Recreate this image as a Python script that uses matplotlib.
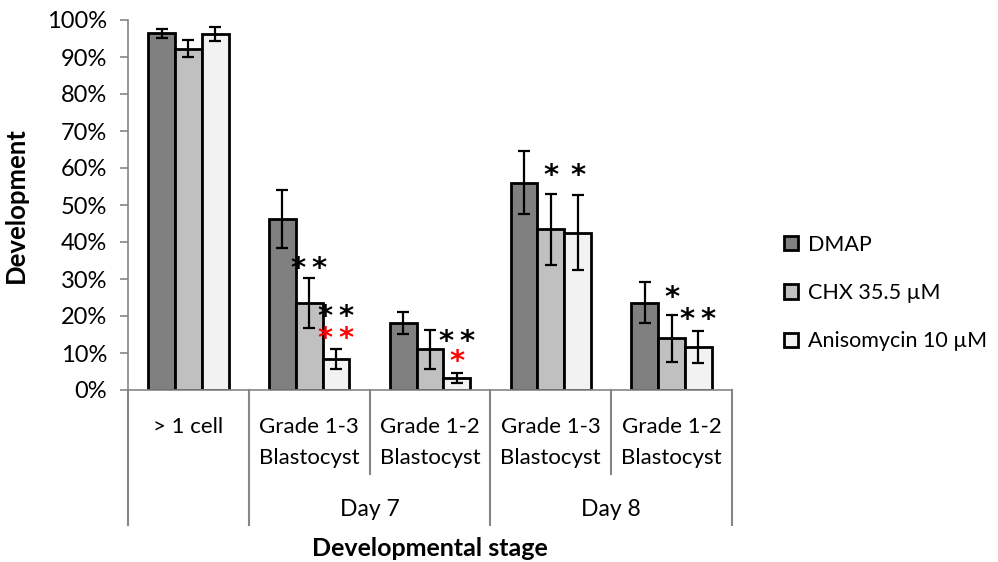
import matplotlib
matplotlib.use("Agg")
import matplotlib.pyplot as plt
from matplotlib.patches import Patch
from matplotlib.ticker import PercentFormatter, FixedLocator
import numpy as np

plt.rcParams['font.family'] = ['Lato', 'DejaVu Sans']

# ---- data ----
categories = ["> 1 cell", "Grade 1-3\nBlastocyst", "Grade 1-2\nBlastocyst",
              "Grade 1-3\nBlastocyst", "Grade 1-2\nBlastocyst"]
groups = ["Day 7", "Day 8"]
group_members = [[1, 2], [3, 4]]
series = ["DMAP", "CHX 35.5 µM", "Anisomycin 10 µM"]
dmap = [0.964, 0.462, 0.182, 0.560, 0.236]
chx = [0.922, 0.236, 0.110, 0.434, 0.140]
aniso = [0.962, 0.084, 0.032, 0.425, 0.117]
dmap_err = [0.013, 0.078, 0.030, 0.085, 0.056]
chx_err = [0.023, 0.068, 0.053, 0.096, 0.064]
aniso_err = [0.020, 0.027, 0.013, 0.102, 0.043]
# significance marks: category, offset in bar widths, height, text, colour
sig_cat = [1, 1, 1, 2, 2, 3, 3, 4, 4]
sig_pos = [0.0, 1.0, 1.0, 1.0, 1.0, 0.0, 1.0, 0.0, 1.0]
sig_y = [0.343, 0.212, 0.154, 0.144, 0.090, 0.593, 0.593, 0.264, 0.203]
sig_txt = ["**", "**", "**", "**", "*", "*", "*", "*", "**"]
sig_col = ["black", "black", "red", "black", "red", "black", "black", "black", "black"]

colors = ["#808080", "#c0c0c0", "#f2f2f2"]
values = [dmap, chx, aniso]
errs = [dmap_err, chx_err, aniso_err]

W, H = 998, 562
fig = plt.figure(figsize=(W / 100, H / 100), dpi=100)
ax = fig.add_axes([128 / W, 1 - 390 / H, (732 - 128) / W, 370 / H])

x = np.arange(len(categories))
bw = 1 / 4.5
axis_gray = "#868686"
for i, (vals, er, c) in enumerate(zip(values, errs, colors)):
    ax.bar(x + (i - 1) * bw, vals, bw, color=c, edgecolor="black", linewidth=2.0,
           zorder=2, label=series[i])
    ax.errorbar(x + (i - 1) * bw, vals, yerr=er, fmt="none", ecolor="black",
                elinewidth=1.6, capsize=4.5, capthick=1.6, zorder=3)

star_fs = 21
for c, p, yy, t, col in zip(sig_cat, sig_pos, sig_y, sig_txt, sig_col):
    ax.annotate(t.replace("**", "*\u2009*"), (c + p * bw, yy),
                xytext=(0, -0.19 * star_fs), textcoords="offset points",
                ha="center", va="center", fontsize=star_fs, color=col,
                family="DejaVu Sans", fontweight="bold", zorder=4)

ax.set_xlim(-0.5, len(categories) - 0.5)
ax.set_ylim(0, 1)
ax.yaxis.set_major_locator(FixedLocator(np.linspace(0, 1, 11)))
ax.yaxis.set_major_formatter(PercentFormatter(1.0, decimals=0))
ax.tick_params(axis="y", length=6, width=1.2, color=axis_gray, labelsize=17,
               pad=9, direction="out")
ax.set_xticks([])
for s in ["top", "right"]:
    ax.spines[s].set_visible(False)
ax.spines["left"].set_color(axis_gray)
ax.spines["bottom"].set_color(axis_gray)
ax.spines["left"].set_linewidth(1.2)
ax.spines["bottom"].set_linewidth(1.2)

trans = ax.get_xaxis_transform()
# separators between categories
bounds = np.arange(len(categories) + 1) - 0.5
inner = [np.mean(g) for g in group_members]
for b in bounds:
    low = -0.227 if b in inner else -0.365
    ax.plot([b, b], [0, low], transform=trans, color=axis_gray, lw=1.5,
            clip_on=False)
for i, lab in enumerate(categories):
    ax.text(x[i], -0.072, lab, transform=trans, ha="center", va="top",
            fontsize=16, linespacing=1.72)
for g, mem in zip(groups, group_members):
    ax.text(np.mean(mem), -0.324, g, transform=trans, ha="center", va="center",
            fontsize=16.5)

ax.set_ylabel("Development", fontsize=18.5, fontweight="bold", labelpad=14)
fig.text(430 / W, 1 - 548 / H, "Developmental stage", ha="center", va="center",
         fontsize=18, fontweight="bold")

handles = [Patch(facecolor=c, edgecolor="black", linewidth=2.0) for c in colors]
fig.legend(handles, series, loc="center left",
           bbox_to_anchor=(775 / W, 1 - 293 / H), frameon=False, fontsize=15.5,
           handlelength=0.66, handleheight=0.66, handletextpad=0.45,
           labelspacing=1.32, borderaxespad=0)

fig.savefig("out.png", dpi=100)
